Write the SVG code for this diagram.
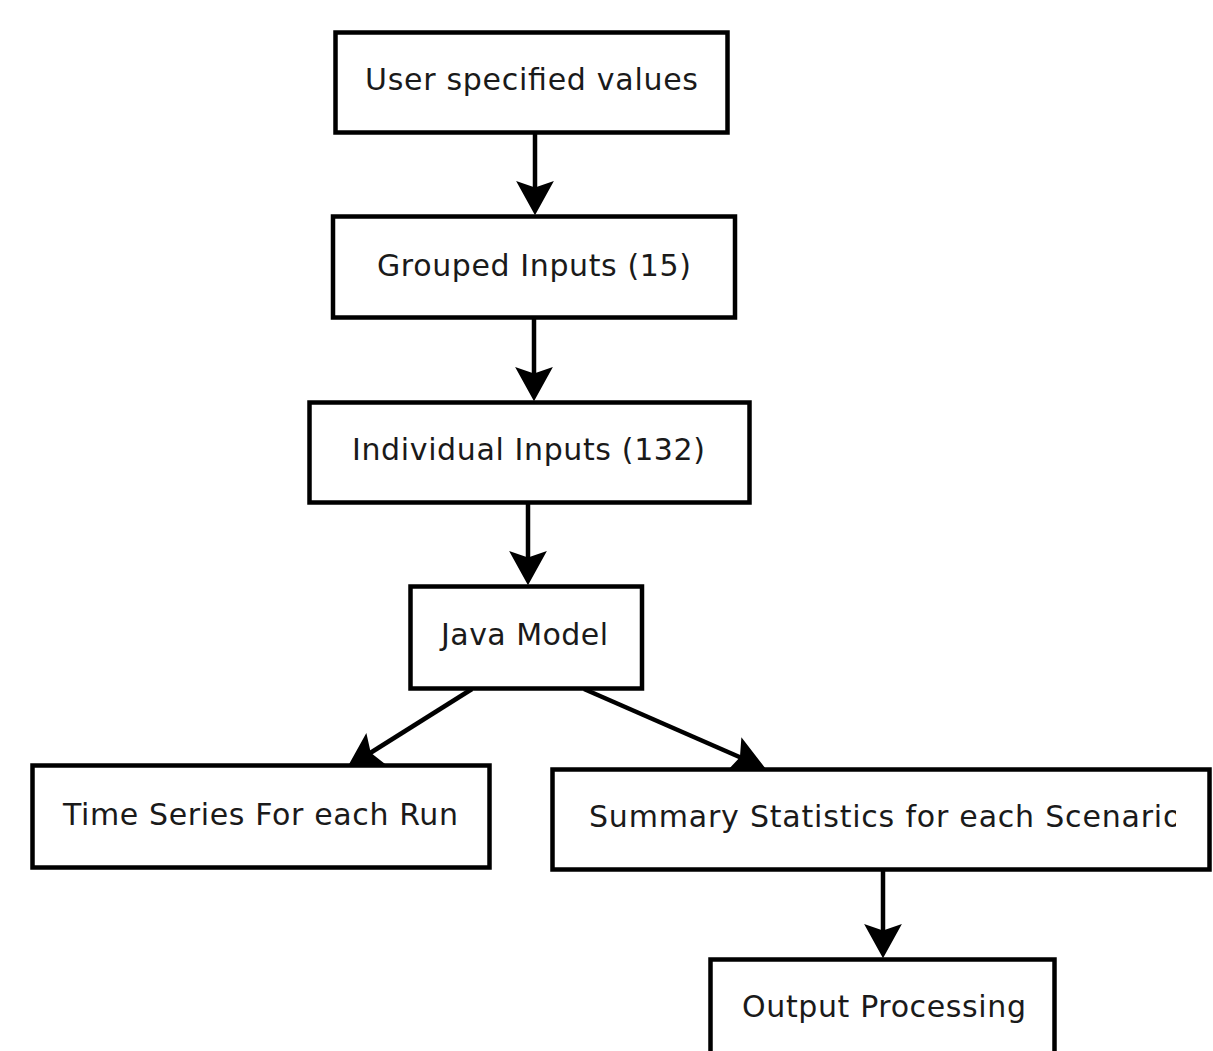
<svg xmlns="http://www.w3.org/2000/svg" width="1213" height="1051" viewBox="0 0 1213 1051">
<style>
.box{fill:#fff;stroke:#000;stroke-width:4.5}
.lbl{font-family:"DejaVu Sans",sans-serif;font-size:30px;fill:#1a1a1a}
.con{stroke:#000;stroke-width:4.5;fill:none}
</style>
<defs>
<marker id="ah" markerUnits="userSpaceOnUse" markerWidth="40" markerHeight="40" viewBox="0 0 32 36" refX="10" refY="18" orient="auto" overflow="visible">
<path d="M31,18 L0,1 L6,18 L0,35 Z" fill="#000"/>
</marker>
<clipPath id="clipSum"><rect x="555" y="772" width="621" height="95"/></clipPath>
</defs>
<rect width="1213" height="1051" fill="#fff"/>
<g id="connectors">
<line class="con" x1="535" y1="134" x2="535" y2="192" marker-end="url(#ah)"/>
<line class="con" x1="534" y1="319" x2="534" y2="378" marker-end="url(#ah)"/>
<line class="con" x1="528" y1="503" x2="528" y2="562" marker-end="url(#ah)"/>
<line class="con" x1="472" y1="689" x2="367" y2="755" marker-end="url(#ah)"/>
<line class="con" x1="584" y1="689" x2="744" y2="759" marker-end="url(#ah)"/>
<line class="con" x1="883" y1="870" x2="883" y2="935" marker-end="url(#ah)"/>
</g>
<g id="n1"><rect class="box" x="335.5" y="32.5" width="392" height="100"/><text class="lbl" x="365" y="90" textLength="333" lengthAdjust="spacing">User specified values</text></g>
<g id="n2"><rect class="box" x="333" y="216.5" width="402" height="101"/><text class="lbl" x="377" y="276" textLength="314" lengthAdjust="spacing">Grouped Inputs (15)</text></g>
<g id="n3"><rect class="box" x="309.5" y="402.5" width="440" height="100"/><text class="lbl" x="352" y="460" textLength="353" lengthAdjust="spacing">Individual Inputs (132)</text></g>
<g id="n4"><rect class="box" x="410.5" y="586.5" width="231.5" height="102"/><text class="lbl" x="441" y="645" textLength="167" lengthAdjust="spacing">Java Model</text></g>
<g id="n5"><rect class="box" x="32.5" y="765.5" width="457" height="102"/><text class="lbl" x="63" y="825" textLength="395" lengthAdjust="spacing">Time Series For each Run</text></g>
<g id="n6"><rect class="box" x="552.5" y="769.5" width="657" height="100"/><text class="lbl" x="589" y="827" letter-spacing="0.8" clip-path="url(#clipSum)">Summary Statistics for each Scenario</text></g>
<g id="n7"><rect class="box" x="710.5" y="959.5" width="344" height="100"/><text class="lbl" x="742" y="1017" textLength="284" lengthAdjust="spacing">Output Processing</text></g>
</svg>
